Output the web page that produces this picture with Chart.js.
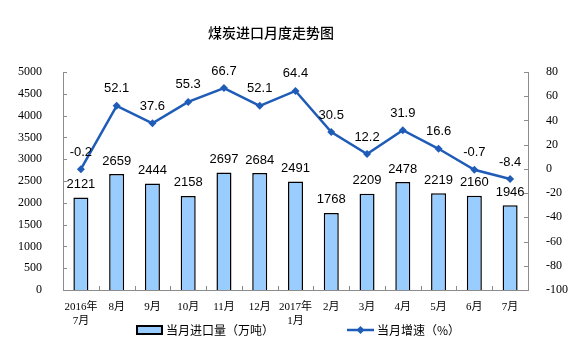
<!DOCTYPE html>
<html>
<head>
<meta charset="utf-8">
<script src="https://cdn.jsdelivr.net/npm/chart.js@4/dist/chart.umd.min.js"></script>
<style>
html,body{margin:0;padding:0;background:#fff;}
#wrap{width:580px;height:361px;}
</style>
</head>
<body>
<div id="wrap"><canvas id="c" width="580" height="361"></canvas></div>
<script>
const categories = [['2016年','7月'],'8月','9月','10月','11月','12月',['2017年','1月'],'2月','3月','4月','5月','6月','7月'];
const importVolume = [2121,2659,2444,2158,2697,2684,2491,1768,2209,2478,2219,2160,1946];
const growthRate = [-0.2,52.1,37.6,55.3,66.7,52.1,64.4,30.5,12.2,31.9,16.6,-0.7,-8.4];
const titleText = '煤炭进口月度走势图';
const barLegend = '当月进口量（万吨）';
const lineLegend = '当月增速（%）';

const BAR_FILL = '#99CCFF';
const LINE_COLOR = '#1F5CB8';
const AXIS_COLOR = '#8C8C8C';
const TICK_FONT = {family: '"Liberation Serif", "Noto Sans CJK SC", serif', size: 12};
const XTICK_FONT = {family: '"Liberation Serif", "Noto Sans CJK SC", serif', size: 11, lineHeight: 1.25};
const CJK = '"Noto Sans CJK SC", "Liberation Sans", sans-serif';

const extras = {
  id: 'extras',
  afterDatasetsDraw(chart) {
    const ctx = chart.ctx;
    ctx.save();
    ctx.fillStyle = '#000';
    ctx.font = '13px "Liberation Sans", Arial, sans-serif';
    ctx.textAlign = 'center';
    ctx.textBaseline = 'middle';
    const barMeta = chart.getDatasetMeta(0);
    barMeta.data.forEach((el, i) => {
      ctx.fillText(String(importVolume[i]), el.x, el.y - 13);
    });
    const lineMeta = chart.getDatasetMeta(1);
    lineMeta.data.forEach((el, i) => {
      ctx.fillText(growthRate[i].toFixed(1), el.x, el.y - 17);
    });
    ctx.restore();
  },
  afterDraw(chart) {
    const ctx = chart.ctx;
    const ca = chart.chartArea;
    ctx.save();
    ctx.strokeStyle = AXIS_COLOR;
    ctx.lineWidth = 1;
    const ys = chart.scales.y, y1 = chart.scales.y1;
    ctx.beginPath();
    ys.ticks.forEach((t, i) => {
      const p = Math.round(ys.getPixelForTick(i)) + 0.5;
      ctx.moveTo(ca.left, p); ctx.lineTo(ca.left + 4, p);
    });
    y1.ticks.forEach((t, i) => {
      const p = Math.round(y1.getPixelForTick(i)) + 0.5;
      ctx.moveTo(ca.right, p); ctx.lineTo(ca.right - 4, p);
    });
    const n = categories.length;
    const step = (ca.right - ca.left) / n;
    for (let i = 1; i < n; i++) {
      const p = Math.round(ca.left + step * i) + 0.5;
      ctx.moveTo(p, ca.bottom); ctx.lineTo(p, ca.bottom - 4);
    }
    ctx.stroke();

    ctx.fillStyle = '#000';
    ctx.font = '500 14px ' + CJK;
    ctx.textAlign = 'center';
    ctx.textBaseline = 'middle';
    ctx.fillText(titleText, 271, 33);

    const ly = 330;
    ctx.fillStyle = BAR_FILL;
    ctx.fillRect(137, ly - 4, 25, 8);
    ctx.strokeStyle = '#000';
    ctx.lineWidth = 2;
    ctx.strokeRect(137, ly - 4, 25, 8);
    ctx.fillStyle = '#000';
    ctx.font = '12px ' + CJK;
    ctx.textAlign = 'left';
    ctx.fillText(barLegend, 166, ly);

    ctx.strokeStyle = LINE_COLOR;
    ctx.lineWidth = 2.5;
    ctx.beginPath();
    ctx.moveTo(347, ly); ctx.lineTo(374, ly);
    ctx.stroke();
    ctx.fillStyle = LINE_COLOR;
    ctx.beginPath();
    ctx.moveTo(360.5, ly - 4); ctx.lineTo(364.5, ly); ctx.lineTo(360.5, ly + 4); ctx.lineTo(356.5, ly);
    ctx.closePath(); ctx.fill();
    ctx.fillStyle = '#000';
    ctx.fillText(lineLegend, 377, ly);
    ctx.restore();
  }
};

new Chart(document.getElementById('c'), {
  type: 'bar',
  data: {
    labels: categories,
    datasets: [
      {
        type: 'bar',
        label: barLegend,
        data: importVolume,
        yAxisID: 'y',
        backgroundColor: BAR_FILL,
        borderColor: '#000',
        borderWidth: 1.5,
        barPercentage: 0.84,
        categoryPercentage: 0.5,
        order: 2
      },
      {
        type: 'line',
        label: lineLegend,
        data: growthRate,
        yAxisID: 'y1',
        borderColor: LINE_COLOR,
        backgroundColor: LINE_COLOR,
        borderWidth: 2.5,
        pointStyle: 'rectRot',
        pointRadius: 4,
        pointBorderWidth: 0,
        tension: 0,
        order: 1
      }
    ]
  },
  options: {
    responsive: false,
    animation: false,
    devicePixelRatio: 1,
    layout: {padding: {top: 72, bottom: 0, left: 0, right: 0}},
    plugins: {legend: {display: false}, title: {display: false}, tooltip: {enabled: false}},
    scales: {
      x: {
        offset: true,
        grid: {display: false},
        border: {display: true, color: AXIS_COLOR, width: 1},
        ticks: {color: '#000', font: XTICK_FONT, padding: 2, maxRotation: 0, autoSkip: false},
        afterFit(s) { s.height = 71; }
      },
      y: {
        position: 'left',
        min: 0, max: 5000,
        grid: {display: false},
        border: {display: true, color: AXIS_COLOR, width: 1},
        ticks: {stepSize: 500, color: '#000', font: TICK_FONT, padding: 13, callback: v => String(v)},
        afterFit(s) { s.width = 63; }
      },
      y1: {
        position: 'right',
        min: -100, max: 80,
        grid: {display: false},
        border: {display: true, color: AXIS_COLOR, width: 1},
        ticks: {stepSize: 20, color: '#000', font: TICK_FONT, padding: 10, callback: v => String(v)},
        afterFit(s) { s.width = 52; }
      }
    }
  },
  plugins: [extras]
});
</script>
</body>
</html>
